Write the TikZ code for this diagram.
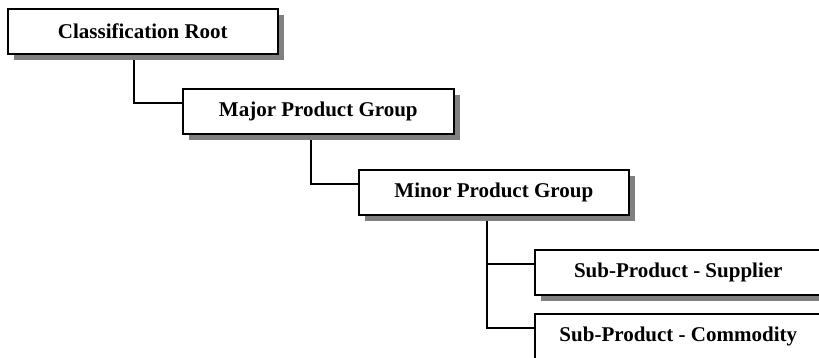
\documentclass[tikz,border=0pt]{standalone}
\usepackage{fontspec}
\setmainfont{Liberation Serif}
\usetikzlibrary{shadows,calc,backgrounds}
\begin{document}
\begin{tikzpicture}[x=1pt,y=-1pt,
  levelbox/.style={draw=black, line width=1.6pt, fill=white, rectangle,
    anchor=north west, minimum height=45pt, inner sep=0pt,
    font=\fontsize{21}{24}\selectfont\bfseries,
    drop shadow={shadow xshift=6pt, shadow yshift=-6pt, fill=black!50, opacity=1}},
  link/.style={draw=black, line width=1.6pt}]
\useasboundingbox (0,0) rectangle (819,358);

% classification hierarchy
\node[levelbox, minimum width=270pt] (root)  at (7,8)    {Classification Root};
\node[levelbox, minimum width=271pt] (major) at (182,88) {Major Product Group};
\node[levelbox, minimum width=270pt] (minor) at (358,169) {Minor Product Group};
\node[levelbox, minimum width=287pt] (supp)  at (534,249) {Sub-Product - Supplier};
\node[levelbox, minimum width=287pt] (comm)  at (534,313) {Sub-Product - Commodity};

% elbow connectors, kept behind the boxes
\begin{pgfonlayer}{background}
\draw[link] ($(root.south west)+(127,0)$) |- ($(major.north west)+(0,15)$);
\draw[link] ($(major.south west)+(129,0)$) |- ($(minor.north west)+(0,15)$);
\draw[link] ($(minor.south west)+(129,0)$) |- ($(supp.north west)+(0,15)$);
\draw[link] ($(minor.south west)+(129,0)$) |- ($(comm.north west)+(0,15)$);
\end{pgfonlayer}
\end{tikzpicture}
\end{document}
